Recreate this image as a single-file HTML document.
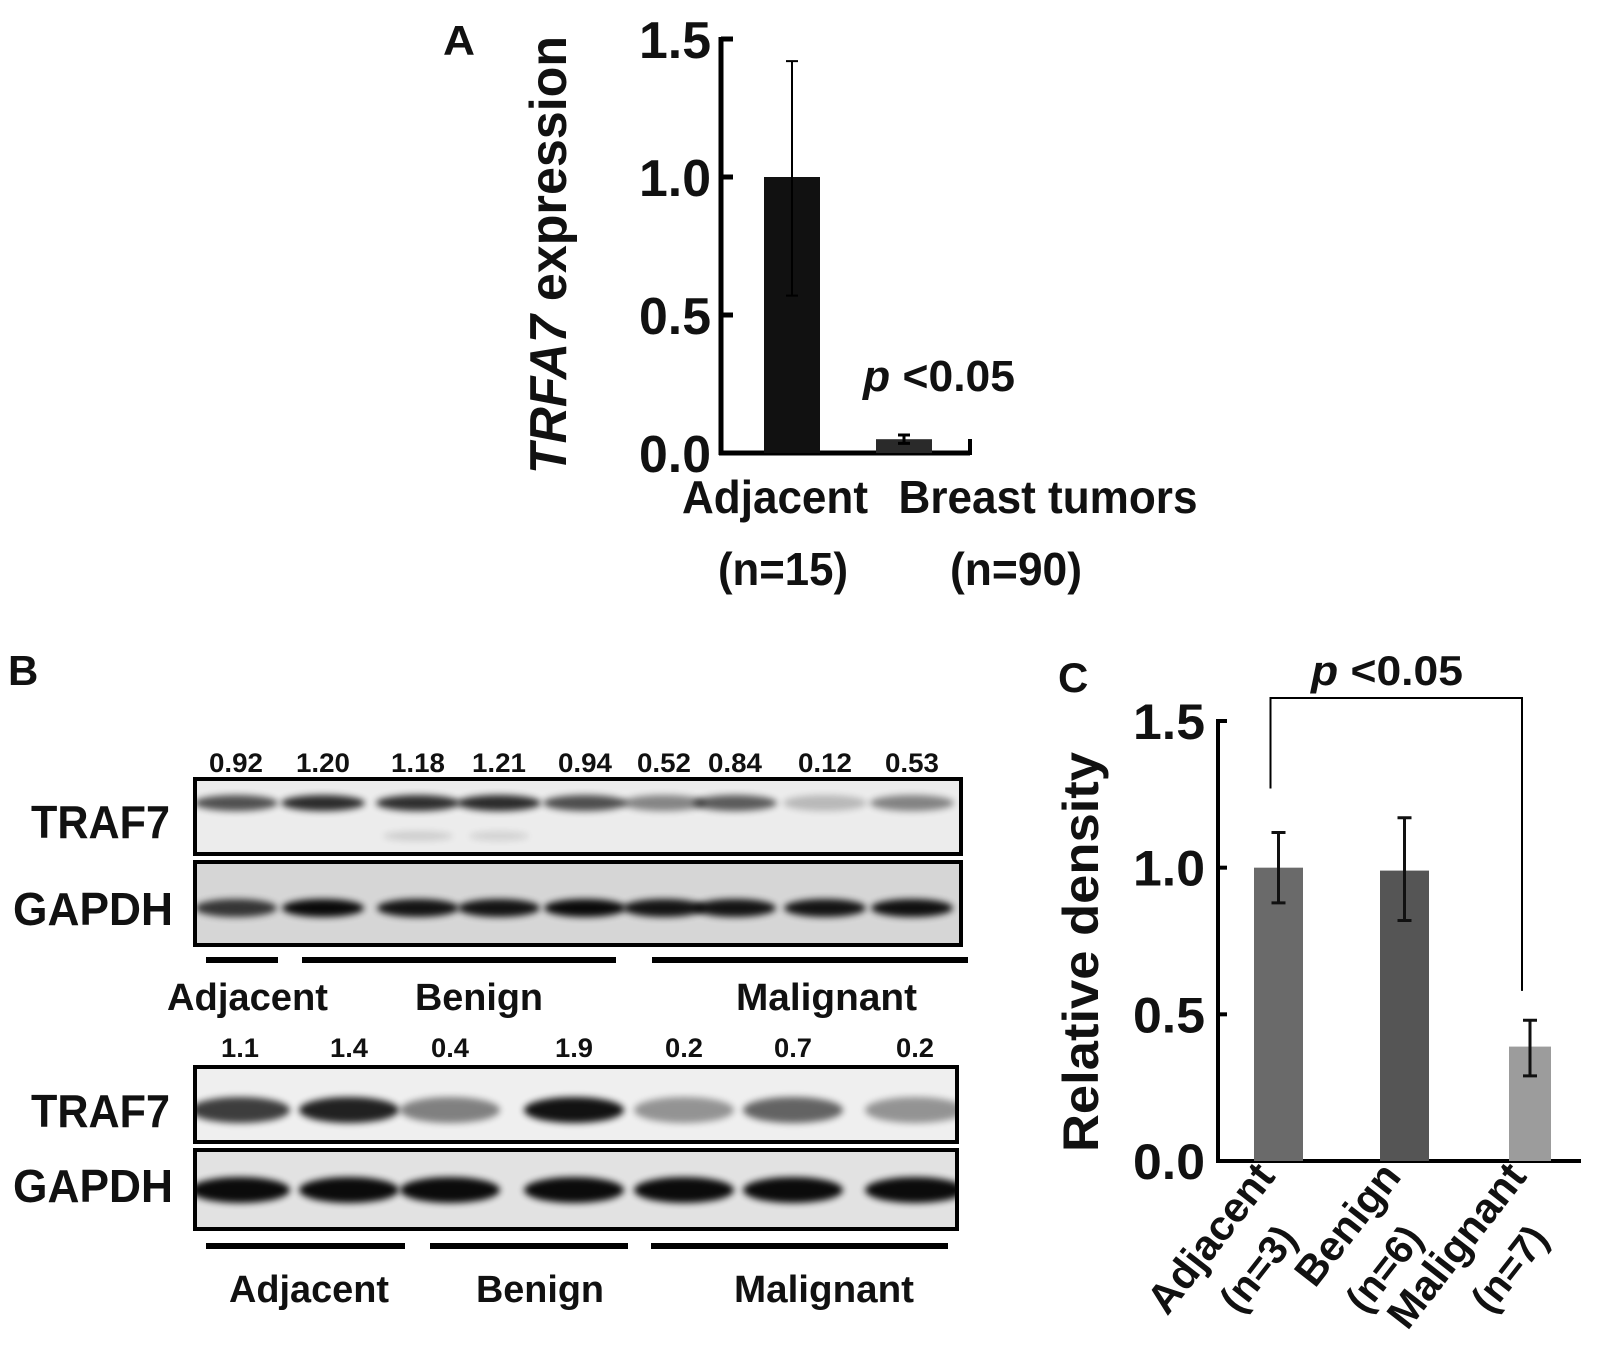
<!DOCTYPE html>
<html><head><meta charset="utf-8"><style>
html,body{margin:0;padding:0;background:#fff}
svg{display:block}
text{font-family:"Liberation Sans",Arial,sans-serif;font-weight:bold;fill:#111}
</style></head><body>
<svg id="fig" width="1607" height="1364" viewBox="0 0 1607 1364" xmlns="http://www.w3.org/2000/svg">
<defs>
<filter id="blur" x="-30%" y="-100%" width="160%" height="300%"><feGaussianBlur stdDeviation="3.5"/></filter>
</defs>
<g id="panelA"></g>
<g id="panelB"></g>
<g id="panelC"></g>
</svg>
<script>
// ---------- Panel A data ----------
const aCategories = ["Adjacent", "Breast tumors"];
const aSubLabels = ["(n=15)", "(n=90)"];
const aValues = [1.0, 0.05];
const aErrLow = [0.57, 0.035];
const aErrHigh = [1.42, 0.065];
const aTicks = ["0.0", "0.5", "1.0", "1.5"];
// ---------- Panel C data ----------
const cCategories = ["Adjacent", "Benign", "Malignant"];
const cSubLabels = ["(n=3)", "(n=6)", "(n=7)"];
const cValues = [1.0, 0.99, 0.39];
const cErrLow = [0.88, 0.82, 0.29];
const cErrHigh = [1.12, 1.17, 0.48];
const cTicks = ["0.0", "0.5", "1.0", "1.5"];
// ---------- Panel B data ----------
const blot1Values = ["0.92","1.20","1.18","1.21","0.94","0.52","0.84","0.12","0.53"];
const blot2Values = ["1.1","1.4","0.4","1.9","0.2","0.7","0.2"];

const NS = "http://www.w3.org/2000/svg";
function mk(parent, tag, attrs, txt){
  const e = document.createElementNS(NS, tag);
  for (const k in attrs) e.setAttribute(k, attrs[k]);
  if (txt !== undefined) e.textContent = txt;
  parent.appendChild(e);
  return e;
}

// ===== Panel A =====
(function(){
  const g = document.getElementById('panelA');
  const x0 = 721, x1 = 970, yTop = 39, yBot = 453;
  const y = v => yBot - (v / 1.5) * (yBot - yTop);
  const barX = i => [764, 876][i];
  const barW = 56;
  let t = mk(g,'text',{x:443,y:55,'font-size':42,textLength:32,lengthAdjust:'spacingAndGlyphs'},'A');
  
  
  t = mk(g,'text',{transform:'translate(566,255) rotate(-90)','text-anchor':'middle','font-size':52,textLength:438,lengthAdjust:'spacingAndGlyphs'});
  
  
  mk(t,'tspan',{'font-style':'italic'},'TRFA7');
  mk(t,'tspan',{},' expression');
  let l = mk(g,'line',{x1:x0,y1:yTop-2,x2:x0,y2:yBot+2,stroke:'#000','stroke-width':5});
   
  l = mk(g,'line',{x1:x0-2,y1:yBot,x2:x1,y2:yBot,stroke:'#000','stroke-width':5});
   
  mk(g,'line',{x1:x1,y1:yBot+2,x2:x1,y2:yBot-14,stroke:'#000','stroke-width':4});
  aTicks.forEach(s=>{
    const v = parseFloat(s);
    const tk = mk(g,'line',{x1:x0,y1:y(v),x2:x0+12,y2:y(v),stroke:'#000','stroke-width':5});
     
    const tl = mk(g,'text',{x:x0-82,y:y(v)+19,'font-size':52,textLength:72,lengthAdjust:'spacingAndGlyphs'},s);
     
  });
  const lw = [186,299], sw=[130,132];
  aValues.forEach((v,i)=>{
    const r = mk(g,'rect',{x:barX(i),y:y(v),width:barW,height:yBot-y(v),fill:i?'#2a2a2a':'#111'});
    
    
    const cx = barX(i)+barW/2;
    const eb = mk(g,'path',{d:`M${cx},${y(aErrLow[i])}V${y(aErrHigh[i])}M${cx-6},${y(aErrHigh[i])}H${cx+6}M${cx-6},${y(aErrLow[i])}H${cx+6}`,stroke:'#000','stroke-width':i?3:2,fill:'none'});
     
    const cxl = [775,1048][i], cxs=[783,1016][i];
    const lb = mk(g,'text',{x:cxl,y:513,'text-anchor':'middle','font-size':46,textLength:lw[i],lengthAdjust:'spacingAndGlyphs'},aCategories[i]);
     
    const sb = mk(g,'text',{x:cxs,y:585,'text-anchor':'middle','font-size':46,textLength:sw[i],lengthAdjust:'spacingAndGlyphs'},aSubLabels[i]);
     
  });
  const p = mk(g,'text',{x:863,y:391,'font-size':44,textLength:152,lengthAdjust:'spacingAndGlyphs'});
   
  mk(p,'tspan',{'font-style':'italic'},'p');
  mk(p,'tspan',{},' <0.05');
})();

// ===== Panel C =====
(function(){
  const g = document.getElementById('panelC');
  const x0 = 1218, x1 = 1581, yTop = 721, yBot = 1161;
  const y = v => yBot - (v / 1.5) * (yBot - yTop);
  const bx = i => [1254, 1380, 1509][i];
  const bw = [49,49,42];
  const colors = ['#6a6a6a','#555','#9c9c9c'];
  let t = mk(g,'text',{x:1058,y:692,'font-size':42},'C');
   
  t = mk(g,'text',{transform:'translate(1098,952) rotate(-90)','text-anchor':'middle','font-size':50,textLength:400,lengthAdjust:'spacingAndGlyphs'},'Relative density');
   
  let l = mk(g,'line',{x1:x0,y1:yTop-2,x2:x0,y2:yBot+2,stroke:'#000','stroke-width':4});
   
  l = mk(g,'line',{x1:x0-2,y1:yBot,x2:x1,y2:yBot,stroke:'#000','stroke-width':4});
   
  cTicks.forEach(s=>{
    const v = parseFloat(s);
    const tk = mk(g,'line',{x1:x0,y1:y(v),x2:x0+9,y2:y(v),stroke:'#000','stroke-width':4});
     
    const tl = mk(g,'text',{x:x0-85,y:y(v)+18,'font-size':50,textLength:72,lengthAdjust:'spacingAndGlyphs'},s);
     
  });
  cValues.forEach((v,i)=>{
    const r = mk(g,'rect',{x:bx(i),y:y(v),width:bw[i],height:yBot-y(v),fill:colors[i]});
    
    
    const cx = bx(i)+bw[i]/2;
    const eb = mk(g,'path',{d:`M${cx},${y(cErrLow[i])}V${y(cErrHigh[i])}M${cx-7},${y(cErrHigh[i])}H${cx+7}M${cx-7},${y(cErrLow[i])}H${cx+7}`,stroke:'#111','stroke-width':3,fill:'none'});
     
    const ax = cx-2, ay = yBot+16;
    const lb = mk(g,'text',{transform:`translate(${ax},${ay}) rotate(-52)`,'text-anchor':'end','font-size':42},cCategories[i]);
     
    const sb = mk(g,'text',{transform:`translate(${ax+22},${ay+62}) rotate(-52)`,'text-anchor':'end','font-size':40},cSubLabels[i]);
     
  });
  const xa = bx(0)+bw[0]/2-8, xb = bx(2)+bw[2]/2-8;
  const br = mk(g,'path',{d:`M${xa},${y(1.27)}V698H${xb}V${y(0.58)}`,stroke:'#000','stroke-width':2,fill:'none'});
   
  const p = mk(g,'text',{x:1387,y:685,'text-anchor':'middle','font-size':42,textLength:152,lengthAdjust:'spacingAndGlyphs'});
   
  mk(p,'tspan',{'font-style':'italic'},'p');
  mk(p,'tspan',{},' <0.05');
})();

// ===== Panel B =====
(function(){
  const g = document.getElementById('panelB');
  const defs = document.querySelector('defs');
  let t = mk(g,'text',{x:8,y:685,'font-size':42},'B');
   
  const lanes1 = [236,323,418,499,585,664,735,825,912];
  const lanes2 = [240,349,450,574,684,793,915];
  let cid = 0;
  function box(x,y0,w,h,name,fill){
    const id = 'clip'+(cid++);
    const cp = mk(defs,'clipPath',{id:id});
    mk(cp,'rect',{x:x,y:y0,width:w,height:h});
    const grp = mk(g,'g',{'clip-path':'url(#'+id+')'});
     
    mk(grp,'rect',{x:x,y:y0,width:w,height:h,fill:fill});
    return grp;
  }
  function band(grp,cx,cy,w,h,op){
    const e = mk(grp,'ellipse',{cx:cx,cy:cy,rx:w/2,ry:h/2,fill:'#000',opacity:op,filter:'url(#blur)'});
     
  }
  function frame(x,y0,w,h){ mk(g,'rect',{x:x,y:y0,width:w,height:h,fill:'none',stroke:'#000','stroke-width':4}); }
  let b = box(195,779,766,75,'traf7-blot-1','#ececec');
  blot1Values.forEach((s,i)=>{ band(b,lanes1[i],803,84,16,Math.min(0.9,0.15+0.55*parseFloat(s))); });
  band(b,418,836,70,10,0.12); band(b,499,836,60,10,0.1);
  frame(195,779,766,75);
  b = box(195,862,766,83,'gapdh-blot-1','#d6d6d6');
  const gap1=[0.75,0.95,0.9,0.9,0.95,0.9,0.9,0.9,0.92];
  lanes1.forEach((x,i)=>band(b,x,908,82,18,gap1[i]));
  frame(195,862,766,83);
  blot1Values.forEach((s,i)=>{
    const n = mk(g,'text',{x:lanes1[i]-27,y:772,'font-size':27,textLength:54,lengthAdjust:'spacingAndGlyphs'},s);
     
  });
  b = box(195,1067,762,75,'traf7-blot-2','#efefef');
  blot2Values.forEach((s,i)=>{ band(b,lanes2[i],1110,100,26,Math.min(0.92,0.3+0.4*parseFloat(s))); });
  frame(195,1067,762,75);
  b = box(195,1150,762,79,'gapdh-blot-2','#e2e2e2');
  lanes2.forEach(x=>band(b,x,1190,100,26,0.95));
  frame(195,1150,762,79);
  blot2Values.forEach((s,i)=>{
    const n = mk(g,'text',{x:lanes2[i]-19,y:1057,'font-size':27,textLength:38,lengthAdjust:'spacingAndGlyphs'},s);
     
  });
  [['TRAF7',31,838,139],['GAPDH',13,925,160],['TRAF7',31,1127,139],['GAPDH',13,1202,160]].forEach(([s,xx,yy,w])=>{
    const n = mk(g,'text',{x:xx,y:yy,'font-size':46,textLength:w,lengthAdjust:'spacingAndGlyphs'},s);
     
  });
  const groups1 = [[206,278,'Adjacent',167,161],[302,616,'Benign',415,128],[652,968,'Malignant',736,181]];
  groups1.forEach(([a,c,s,x,w])=>{
    mk(g,'line',{x1:a,y1:960,x2:c,y2:960,stroke:'#000','stroke-width':6});
    const n = mk(g,'text',{x:x,y:1010,'font-size':38,textLength:w,lengthAdjust:'spacingAndGlyphs'},s);
     
  });
  const groups2 = [[206,405,'Adjacent',229,160],[430,628,'Benign',476,128],[651,948,'Malignant',734,180]];
  groups2.forEach(([a,c,s,x,w])=>{
    mk(g,'line',{x1:a,y1:1246,x2:c,y2:1246,stroke:'#000','stroke-width':6});
    const n = mk(g,'text',{x:x,y:1302,'font-size':38,textLength:w,lengthAdjust:'spacingAndGlyphs'},s);
     
  });
})();
</script>
</body></html>
